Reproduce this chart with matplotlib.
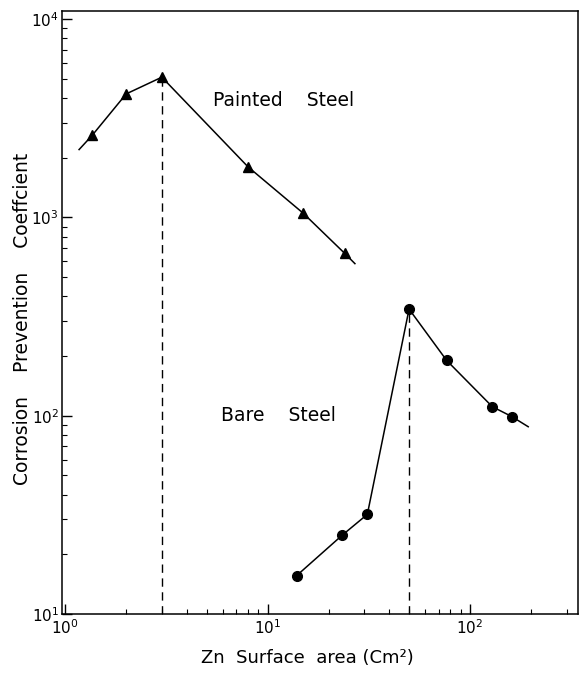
import matplotlib
matplotlib.use("Agg")
import matplotlib.pyplot as plt
from matplotlib.ticker import LogLocator, NullFormatter

# Painted steel (triangles)
painted_x = [1.36, 2.0, 3.0, 8.0, 15.0, 24.0]
painted_y = [2600, 4200, 5100, 1800, 1050, 660]
painted_line_start = (1.17, 2200)
painted_line_end = (27.0, 585)

# Bare steel (circles)
bare_x = [13.9, 23.4, 31.1, 50.0, 76.7, 129.0, 161.0]
bare_y = [15.6, 25.0, 31.8, 345, 190, 111, 99]
bare_line_end = (194.0, 88)

# Peaks marked with dashed drop lines
peak_x = [3.0, 50.0]
peak_y = [5100, 345]

xlim = (0.96, 342)
ylim = (10, 11000)

fig = plt.figure(figsize=(5.81, 6.75), dpi=100)
ax = fig.add_axes([0.1062, 0.0904, 0.8887, 0.8933])
ax.set_xscale("log")
ax.set_yscale("log")
ax.set_xlim(*xlim)
ax.set_ylim(*ylim)

lx = [painted_line_start[0]] + painted_x + [painted_line_end[0]]
ly = [painted_line_start[1]] + painted_y + [painted_line_end[1]]
ax.plot(lx, ly, color="black", lw=1.1)
ax.plot(painted_x, painted_y, linestyle="none", marker="^", ms=6.5, color="black")

bx = bare_x + [bare_line_end[0]]
by = bare_y + [bare_line_end[1]]
ax.plot(bx, by, color="black", lw=1.1)
ax.plot(bare_x, bare_y, linestyle="none", marker="o", ms=7, color="black")

for px, py in zip(peak_x, peak_y):
    ax.plot([px, px], [ylim[0], py], color="black", lw=1.0,
            linestyle=(0, (6, 4)))

ax.text(5.35, 3900, "Painted    Steel", fontsize=13.5, ha="left", va="center")
ax.text(5.9, 100, "Bare    Steel", fontsize=13.5, ha="left", va="center")

ax.set_xlabel("Zn  Surface  area (Cm²)", fontsize=13)
ax.xaxis.set_label_coords(0.476, -0.058)
ax.set_ylabel("Corrosion    Prevention    Coeffcient", fontsize=13.5)
ax.yaxis.set_label_coords(-0.0575, 0.489)

for a in (ax.xaxis, ax.yaxis):
    a.set_major_locator(LogLocator(base=10, numticks=10))
    a.set_minor_locator(LogLocator(base=10, subs=range(2, 10), numticks=20))
    a.set_minor_formatter(NullFormatter())
ax.tick_params(which="major", direction="in", length=7.5, width=1,
               labelsize=11, top=False, right=False)
ax.tick_params(axis="x", which="major", pad=3)
ax.tick_params(axis="y", which="major", pad=2)
ax.tick_params(which="minor", direction="in", length=3.5, width=0.8,
               top=False, right=False)
for s in ax.spines.values():
    s.set_linewidth(1.1)

fig.savefig("out.png", dpi=100)
